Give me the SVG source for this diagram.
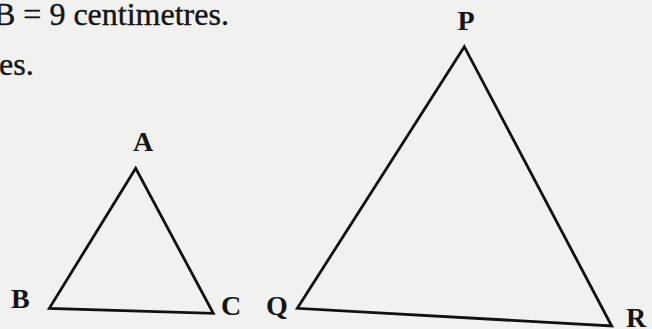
<svg xmlns="http://www.w3.org/2000/svg" width="652" height="329" viewBox="0 0 652 329">
<style>
.t{font-family:"Liberation Serif","Times New Roman",serif;fill:#151515}
.lbl{font-size:28px;font-weight:bold}
.txt{font-size:32px;stroke:#151515;stroke-width:0.4}
.tri{fill:none;stroke:#111;stroke-width:2.8;stroke-linejoin:miter}
</style>
<rect width="652" height="329" fill="#f1f1ef"/>
<text class="t txt" x="-6" y="25">B = 9 centimetres.</text>
<text class="t txt" x="-1" y="75">es.</text>
<g id="triangleABC">
<polygon class="tri" points="135.7,168.3 49.3,308.3 213.3,313.3"/>
<text class="t lbl" x="143" y="151" text-anchor="middle">A</text>
<text class="t lbl" x="11" y="308">B</text>
<text class="t lbl" x="221" y="315">C</text>
</g>
<g id="trianglePQR">
<polygon class="tri" points="464.3,46.7 297.3,308.3 611.7,326"/>
<text class="t lbl" x="466" y="30" text-anchor="middle">P</text>
<text class="t lbl" x="266" y="315">Q</text>
<text class="t lbl" x="626" y="327">R</text>
</g>
</svg>
